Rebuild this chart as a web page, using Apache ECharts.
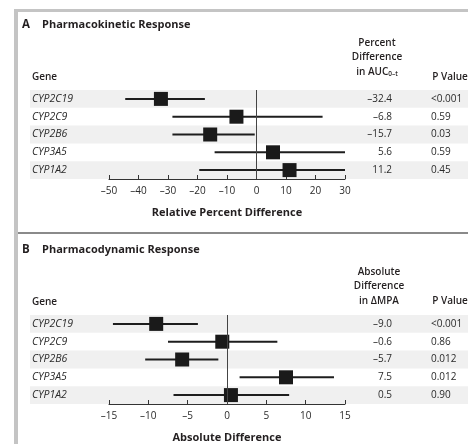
<!DOCTYPE html>
<html><head><meta charset="utf-8">
<script src="https://cdn.jsdelivr.net/npm/echarts@6/dist/echarts.min.js"></script>
<style>html,body{margin:0;padding:0;background:#fff}#c{width:468px;height:444px}</style>
</head><body><div id="c"></div>
<script>
const genes = ['CYP2C19', 'CYP2C9', 'CYP2B6', 'CYP3A5', 'CYP1A2'];
// Panel A: pharmacokinetic response (percent difference in AUC)
const pkEst = [-32.4, -6.8, -15.7, 5.6, 11.2];
const pkLow = [-44.5, -28.5, -28.5, -14.2, -19.4];
const pkHigh = [-17.5, 22.4, -0.6, 30, 30];
const pkP = ['<0.001', '0.59', '0.03', '0.59', '0.45'];
const pkTicks = [-50, -40, -30, -20, -10, 0, 10, 20, 30];
// Panel B: pharmacodynamic response (absolute difference in ΔMPA)
const pdEst = [-9.0, -0.6, -5.7, 7.5, 0.5];
const pdLow = [-14.5, -7.5, -10.4, 1.6, -6.8];
const pdHigh = [-3.7, 6.4, -1.1, 13.6, 7.9];
const pdP = ['<0.001', '0.86', '0.012', '0.012', '0.90'];
const pdTicks = [-15, -10, -5, 0, 5, 10, 15];

const FONT = '"Open Sans", "Noto Sans", sans-serif';
const TXT = '#231f20';
const dash = s => String(s).replace('-', '\u2013');
const fmt1 = v => dash(v.toFixed(1));

const chart = echarts.init(document.getElementById('c'), null, {renderer: 'canvas'});

function panel(i, top, est, low, high, pv, ticks, name) {
  const idxs = genes.map((g, k) => k);
  const grid = {left: 109, width: 236, top: top, height: 89};
  const xAxis = {
    gridIndex: i, type: 'value', min: ticks[0], max: ticks[ticks.length - 1],
    interval: ticks[1] - ticks[0],
    axisLine: {show: true, lineStyle: {color: '#333', width: 1}},
    axisTick: {show: true, inside: true, length: 4, lineStyle: {color: '#333'}},
    splitLine: {show: false},
    axisLabel: {color: '#2a2a2a', fontSize: 10, fontFamily: FONT, margin: 7, formatter: v => dash(v)},
    name: name, nameLocation: 'middle', nameGap: 28,
    nameTextStyle: {color: TXT, fontSize: 11, fontWeight: 'bold', fontFamily: FONT}
  };
  const yBase = {gridIndex: i, type: 'category', inverse: true,
    axisLine: {show: false}, axisTick: {show: false}, splitLine: {show: false}};
  const yAxes = [
    Object.assign({}, yBase, {data: genes, position: 'left',
      axisLabel: {align: 'left', margin: 77, color: '#2a2a2a', fontStyle: 'italic', fontSize: 10.5, fontFamily: FONT}}),
    Object.assign({}, yBase, {data: est.map(fmt1), position: 'right',
      axisLabel: {align: 'right', margin: 47, color: '#2a2a2a', fontSize: 10, fontFamily: FONT}}),
    Object.assign({}, yBase, {data: pv, position: 'right', offset: 0,
      axisLabel: {align: 'left', margin: 86, color: '#2a2a2a', fontSize: 10, fontFamily: FONT}})
  ];
  return {grid, xAxis, yAxes, idxs, est, low, high};
}

const A = panel(0, 90, pkEst, pkLow, pkHigh, pkP, pkTicks, 'Relative Percent Difference');
const B = panel(1, 315, pdEst, pdLow, pdHigh, pdP, pdTicks, 'Absolute Difference');

const series = [];
[A, B].forEach((P, i) => {
  const yBaseIdx = i * 3;
  // row shading
  series.push({
    type: 'custom', xAxisIndex: i, yAxisIndex: yBaseIdx, z: 0, silent: true,
    data: P.idxs.filter(k => k % 2 === 0).map(k => [0, k]),
    renderItem: (params, api) => {
      const c = api.coord([0, api.value(1)]);
      const h = api.size([0, 1])[1];
      return {type: 'rect', shape: {x: 30, y: c[1] - h / 2, width: 438, height: h},
        style: {fill: '#f0f0f0'}};
    }
  });
  // CI lines
  series.push({
    type: 'custom', xAxisIndex: i, yAxisIndex: yBaseIdx, z: 3, silent: true,
    data: P.idxs.map(k => [P.low[k], P.high[k], k]),
    renderItem: (params, api) => {
      const a = api.coord([api.value(0), api.value(2)]);
      const b = api.coord([api.value(1), api.value(2)]);
      return {type: 'line', shape: {x1: a[0], y1: a[1], x2: b[0], y2: b[1]},
        style: {stroke: '#1e1e1e', lineWidth: 2}};
    }
  });
  // point estimates
  series.push({
    type: 'scatter', xAxisIndex: i, yAxisIndex: yBaseIdx, z: 4, silent: true,
    symbol: 'rect', symbolSize: 14,
    itemStyle: {color: '#1a1a1a', opacity: 1},
    data: P.idxs.map(k => [P.est[k], k]),
    markLine: {silent: true, symbol: 'none', label: {show: false},
      lineStyle: {color: '#444', width: 1, type: 'solid', opacity: 1},
      data: [{xAxis: 0}]}
  });
});

const hdr = (x, y, text, align, extra) => Object.assign({
  type: 'text', x: x, y: y,
  style: {text: text, fill: TXT, font: '600 10px ' + FONT, align: align || 'left', verticalAlign: 'middle'}
}, extra || {});

const graphics = [
  // frame
  {type: 'rect', shape: {x: 14, y: 9, width: 454, height: 3}, style: {fill: '#c4c4c4'}},
  {type: 'rect', shape: {x: 14, y: 9, width: 4, height: 435}, style: {fill: '#c4c4c4'}},
  {type: 'rect', shape: {x: 18, y: 232, width: 450, height: 2}, style: {fill: '#8a8a8a'}},
  // panel A titles
  {type: 'text', x: 22, y: 25, style: {text: 'A', fill: TXT, font: 'bold 11.5px ' + FONT, verticalAlign: 'middle'}},
  {type: 'text', x: 42, y: 25, style: {text: 'Pharmacokinetic Response', fill: TXT, font: 'bold 11px ' + FONT, verticalAlign: 'middle'}},
  hdr(32, 77, 'Gene'),
  hdr(377, 43, 'Percent', 'center'),
  hdr(377, 57, 'Difference', 'center'),
  {type: 'text', x: 377, y: 72, style: {
    text: 'in AUC{s|0\u2013t}', fill: TXT, font: '600 10px ' + FONT, align: 'center', verticalAlign: 'middle',
    rich: {s: {fontSize: 6.5, fontWeight: 600, fontFamily: FONT, fill: TXT, verticalAlign: 'bottom', padding: [5, 0, 0, 0]}}}},
  hdr(450, 77, 'P Value', 'center'),
  // panel B titles
  {type: 'text', x: 22, y: 250, style: {text: 'B', fill: TXT, font: 'bold 11.5px ' + FONT, verticalAlign: 'middle'}},
  {type: 'text', x: 42, y: 250, style: {text: 'Pharmacodynamic Response', fill: TXT, font: 'bold 11px ' + FONT, verticalAlign: 'middle'}},
  hdr(32, 302, 'Gene'),
  hdr(379, 272, 'Absolute', 'center'),
  hdr(379, 286, 'Difference', 'center'),
  hdr(379, 301, 'in \u0394MPA', 'center'),
  hdr(450, 301, 'P Value', 'center')
];

chart.setOption({
  backgroundColor: '#fff',
  animation: false,
  grid: [A.grid, B.grid],
  xAxis: [A.xAxis, B.xAxis],
  yAxis: [...A.yAxes, ...B.yAxes],
  series: series,
  graphic: graphics
});
</script></body></html>
